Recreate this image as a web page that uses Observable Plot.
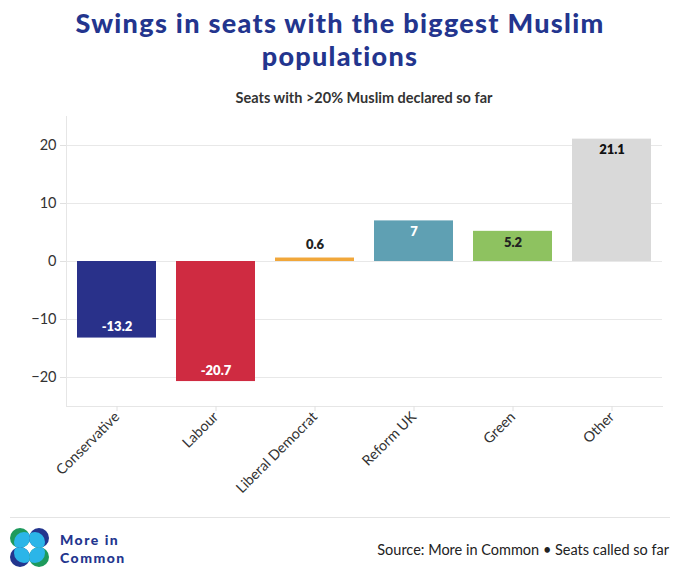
<!DOCTYPE html>
<html>
<head>
<meta charset="utf-8">
<script src="https://cdn.jsdelivr.net/npm/d3@7"></script>
<script src="https://cdn.jsdelivr.net/npm/@observablehq/plot@0.6"></script>
<style>
  html, body { margin: 0; padding: 0; background: #fff; }
  #wrap { position: relative; width: 680px; height: 583px; font-family: Lato, "Open Sans", sans-serif; overflow: hidden; }
  .title { position: absolute; left: 0; width: 680px; text-align: center; font-size: 27px; line-height: 27px; font-weight: 900; letter-spacing: 1.3px; color: #23358e; white-space: nowrap; }
  #subtitle { position: absolute; left: 66px; top: 89px; width: 596px; text-align: center; font-size: 14.5px; font-weight: 700; color: #333; }
  #chart { position: absolute; left: 0; top: 108px; }
  #sep { position: absolute; left: 10px; top: 517px; width: 660px; height: 1px; background: #e4e4e4; }
  .brand { position: absolute; left: 60px; font-size: 14px; line-height: 14px; font-weight: 900; letter-spacing: 1.5px; color: #23358e; white-space: nowrap; }
  #source { position: absolute; right: 11px; top: 541px; font-size: 14.5px; color: #222; }
  #logo { position: absolute; left: 9px; top: 527px; }
</style>
</head>
<body>
<div id="wrap">
  <div class="title" style="top:9px">Swings in seats with the biggest Muslim</div>
  <div class="title" style="top:41.8px">populations</div>
  <div id="subtitle">Seats with &gt;20% Muslim declared so far</div>
  <div id="chart"></div>
  <div id="sep"></div>
  <svg id="logo" width="42" height="42" viewBox="0 0 42 42">
    <defs>
      <clipPath id="c1"><circle cx="11" cy="11" r="10"/></clipPath>
      <clipPath id="c2"><circle cx="30" cy="11" r="10"/></clipPath>
      <clipPath id="c3"><circle cx="11" cy="30" r="10"/></clipPath>
      <clipPath id="c4"><circle cx="30" cy="30" r="10"/></clipPath>
    </defs>
    <circle cx="11" cy="11" r="10" fill="#1e9a5c"/>
    <circle cx="15" cy="15" r="10" fill="#2bb5e8" clip-path="url(#c1)"/>
    <circle cx="30" cy="11" r="10" fill="#23358e"/>
    <circle cx="26" cy="15" r="10" fill="#2bb5e8" clip-path="url(#c2)"/>
    <circle cx="11" cy="30" r="10" fill="#23358e"/>
    <circle cx="15" cy="26" r="10" fill="#2bb5e8" clip-path="url(#c3)"/>
    <circle cx="30" cy="30" r="10" fill="#1e9a5c"/>
    <circle cx="26" cy="26" r="10" fill="#2bb5e8" clip-path="url(#c4)"/>
  </svg>
  <div class="brand" style="top:533.4px">More in</div>
  <div class="brand" style="top:550.6px">Common</div>
  <div id="source">Source: More in Common • Seats called so far</div>
</div>
<script>
const parties = ["Conservative", "Labour", "Liberal Democrat", "Reform UK", "Green", "Other"];
const swings = [-13.2, -20.7, 0.6, 7, 5.2, 21.1];
const barColors = ["#29318a", "#cf2b41", "#f1a73a", "#5fa0b3", "#8ec260", "#d9d9d9"];
const labelColors = ["#ffffff", "#ffffff", "#222222", "#ffffff", "#222222", "#111111"];
const yTicks = [-20, -10, 0, 10, 20];

const data = parties.map((p, i) => ({party: p, swing: swings[i], color: barColors[i], label: labelColors[i]}));
const neg = data.filter(d => d.swing < 0);
const posIn = data.filter(d => d.swing >= 3);
const posOut = data.filter(d => d.swing >= 0 && d.swing < 3);

const chart = Plot.plot({
  width: 680,
  height: 400,
  marginLeft: 66,
  marginRight: 18,
  marginTop: 8,
  marginBottom: 102,
  style: {fontFamily: "Lato, sans-serif", fontSize: "13px", color: "#333", background: "transparent"},
  x: {domain: parties, paddingInner: 0.2, paddingOuter: 0.1, label: null},
  y: {domain: [-25, 25], label: null},
  color: {type: "identity"},
  marks: [
    Plot.gridY(yTicks, {stroke: "#e8e8e8", strokeOpacity: 1}),
    Plot.frame({anchor: "left", stroke: "#e6e6e6"}),
    Plot.frame({anchor: "bottom", stroke: "#e6e6e6"}),
    Plot.axisY(yTicks, {tickSize: 6, tickPadding: 4, stroke: "#e0e0e0", fill: "#333", fontSize: 14.5, label: null}),
    Plot.axisX({tickSize: 5, tickPadding: 3, tickRotate: -45, stroke: "#e0e0e0", fill: "#333", fontSize: 14.3, label: null}),
    Plot.barY(data, {x: "party", y: "swing", fill: "color"}),
    Plot.text(neg, {x: "party", y: "swing", text: d => String(d.swing), fill: "label", dy: -11, fontWeight: 800, fontSize: 13}),
    Plot.text(posIn, {x: "party", y: "swing", text: d => String(d.swing), fill: "label", dy: 11, fontWeight: 800, fontSize: 13}),
    Plot.text(posOut, {x: "party", y: "swing", text: d => String(d.swing), fill: "label", dy: -13, fontWeight: 800, fontSize: 13})
  ]
});
document.getElementById("chart").appendChild(chart);
</script>
</body>
</html>
